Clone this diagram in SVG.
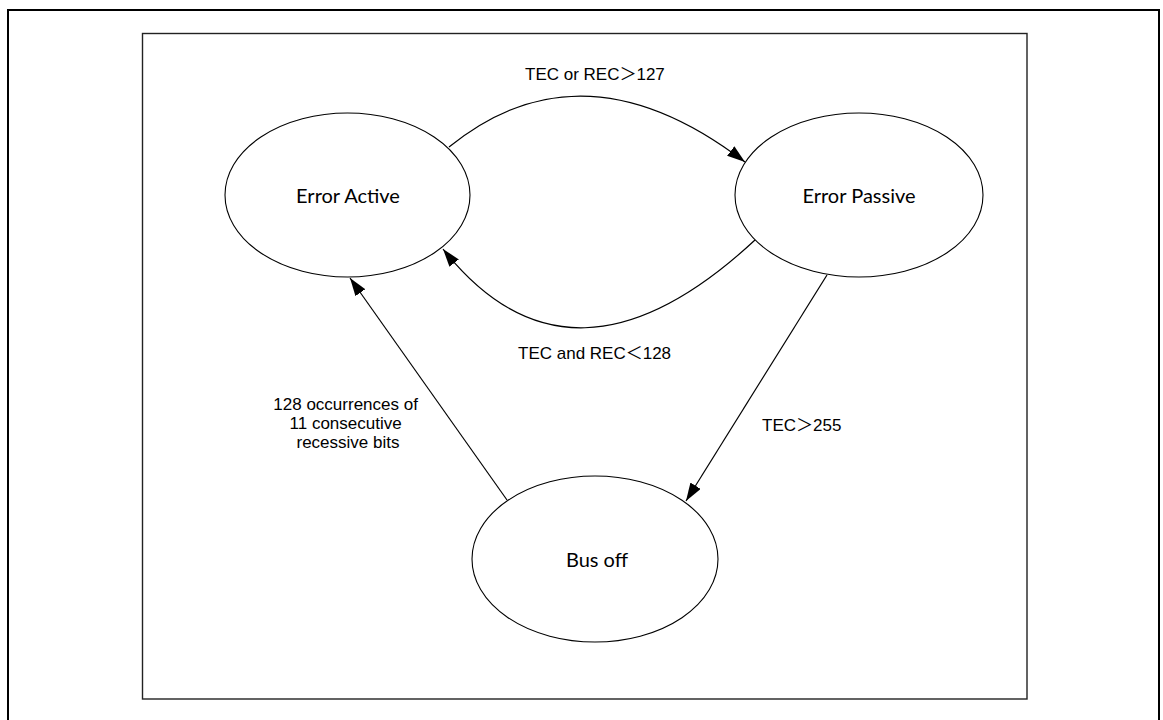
<svg xmlns="http://www.w3.org/2000/svg" width="1163" height="720" viewBox="0 0 1163 720">
  <style>
    .frame { fill: none; stroke: #000; stroke-width: 2; }
    .panel { fill: none; stroke: #222; stroke-width: 1.4; }
    .state { fill: #fff; stroke: #000; stroke-width: 1.1; }
    .state-label { font-family: Lato, "Noto Sans", sans-serif; font-size: 20px; fill: #000; text-anchor: middle; }
    .edge { fill: none; stroke: #000; stroke-width: 1.2; marker-end: url(#arrow); }
    .edge-label { font-family: "Liberation Sans", Arial, "Noto Sans CJK SC", sans-serif; font-size: 17px; fill: #000; }
  </style>
  <defs>
    <marker id="arrow" markerUnits="userSpaceOnUse" markerWidth="18" markerHeight="12" refX="18" refY="6" orient="auto">
      <path d="M0,0 L18,6 L0,12 z" fill="#000"/>
    </marker>
  </defs>

  <rect x="0" y="0" width="1163" height="720" fill="#fff"/>
  <!-- outer figure frame (continues below the visible area) -->
  <rect class="frame" x="8" y="10" width="1151" height="730"/>
  <!-- drawing panel -->
  <rect class="panel" x="142.5" y="33.5" width="884.5" height="665.5"/>

  <g id="connectors">
    <path class="edge" d="M449,147 Q583,38 745,162"/>
    <path class="edge" d="M755,240 Q571,411 443,249"/>
    <path class="edge" d="M507,500 L350,278"/>
    <path class="edge" d="M827,275 L686,501"/>
    <text class="edge-label" x="525" y="80">TEC or REC＞127</text>
    <text class="edge-label" x="518" y="359">TEC and REC＜128</text>
    <text class="edge-label" x="762" y="431">TEC＞255</text>
    <text class="edge-label" text-anchor="middle">
      <tspan x="348" y="410">128 occurrences of</tspan>
      <tspan x="348" y="429">11 consecutive</tspan>
      <tspan x="348" y="448">recessive bits</tspan>
    </text>
  </g>

  <g id="error-active">
    <ellipse class="state" cx="347.5" cy="195" rx="122.5" ry="82"/>
    <text class="state-label" x="348" y="203">Error Active</text>
  </g>

  <g id="error-passive">
    <ellipse class="state" cx="859" cy="195" rx="124" ry="82"/>
    <text class="state-label" x="859" y="203">Error Passive</text>
  </g>

  <g id="bus-off">
    <ellipse class="state" cx="595" cy="559" rx="123" ry="83"/>
    <text class="state-label" x="597" y="567">Bus off</text>
  </g>
</svg>
